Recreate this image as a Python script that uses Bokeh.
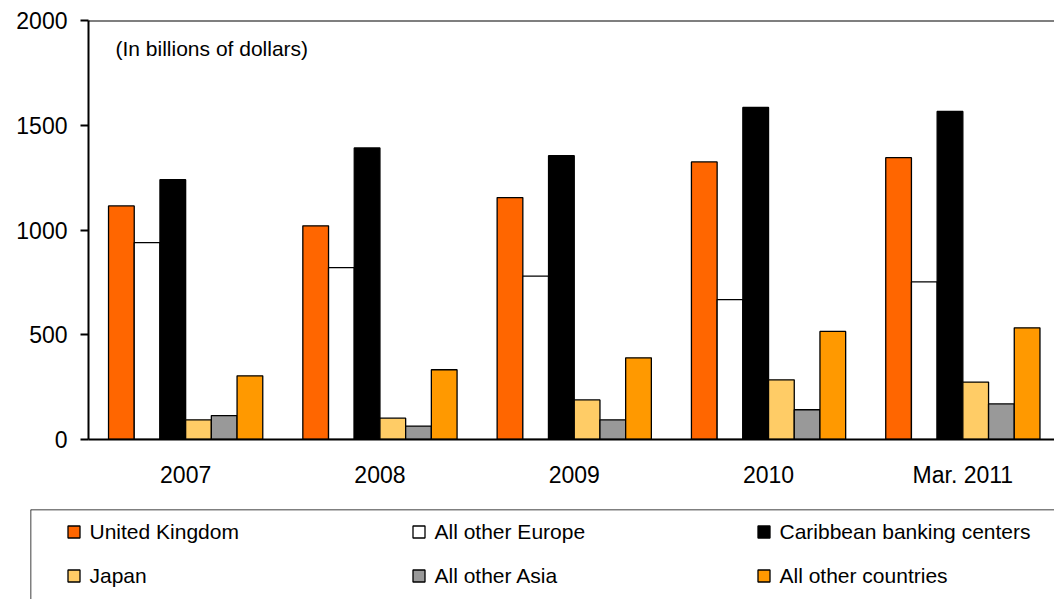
import numpy as np
from bokeh.plotting import figure
from bokeh.layouts import column
from bokeh.models import (ColumnDataSource, Range1d, FixedTicker, Span, Label,
                          Legend, LegendItem)
from bokeh.embed import file_html
from bokeh.resources import INLINE

# Holdings by country, in billions of dollars
periods = ["2007", "2008", "2009", "2010", "Mar. 2011"]
series_names = ["United Kingdom", "All other Europe", "Caribbean banking centers",
                "Japan", "All other Asia", "All other countries"]
united_kingdom = [1115, 1020, 1155, 1325, 1345]
other_europe = [940, 820, 780, 668, 752]
caribbean = [1240, 1392, 1355, 1585, 1566]
japan = [94, 102, 189, 285, 274]
other_asia = [114, 64, 94, 142, 170]
other_countries = [304, 333, 390, 516, 533]
y_ticks = [0, 500, 1000, 1500, 2000]

series_values = [united_kingdom, other_europe, caribbean, japan, other_asia, other_countries]
series_colors = ["#FF6600", "#FFFFFF", "#000000", "#FFCC66", "#999999", "#FF9900"]

FONT = "Liberation Sans"
W = 1054
TOP_H = 505
BOT_H = 599 - TOP_H

# ---- main bar chart ----
p = figure(width=W, height=TOP_H, output_backend="svg", toolbar_location=None,
           x_range=Range1d(-0.5, -0.5 + (W - 88) / 194.3), y_range=Range1d(0, 2000),
           min_border_left=88, min_border_right=0, min_border_top=20,
           min_border_bottom=TOP_H - 439)
p.frame_align = False
p.outline_line_color = None
p.background_fill_color = "white"
p.border_fill_color = "white"
p.xgrid.visible = False
p.ygrid.visible = False

bar_w = 0.1323
idx = np.arange(len(periods))
for k, (name, vals, col) in enumerate(zip(series_names, series_values, series_colors)):
    src = ColumnDataSource(dict(x=idx + (k - 2.5) * bar_w, top=vals))
    p.vbar(x="x", top="top", bottom=0, width=bar_w, source=src,
           fill_color=col, line_color="black", line_width=1.3)

# top edge of the plot area
p.add_layout(Span(location=2000, dimension="width", line_color="black", line_width=2))

p.add_layout(Label(x=-0.361, y=1866, text="(In billions of dollars)",
                   text_font=FONT, text_font_size="21px", text_color="black",
                   text_align="left", text_baseline="middle"))

# y axis
ya = p.yaxis[0]
ya.ticker = FixedTicker(ticks=y_ticks)
ya.axis_line_color = "black"
ya.axis_line_width = 2
ya.major_tick_line_color = "black"
ya.major_tick_line_width = 2
ya.major_tick_out = 8
ya.major_tick_in = 0
ya.minor_tick_line_color = None
ya.major_label_text_font = FONT
ya.major_label_text_font_size = "23px"
ya.major_label_text_color = "black"
ya.major_label_standoff = 13

# x axis
xa = p.xaxis[0]
xa.ticker = FixedTicker(ticks=list(range(len(periods))))
xa.major_label_overrides = {i: lab for i, lab in enumerate(periods)}
xa.axis_line_color = "black"
xa.axis_line_width = 2
xa.major_tick_line_color = None
xa.major_tick_out = 0
xa.major_tick_in = 0
xa.minor_tick_line_color = None
xa.major_label_text_font = FONT
xa.major_label_text_font_size = "23px"
xa.major_label_text_color = "black"
xa.major_label_standoff = 22

# ---- legend box ----
q = figure(width=W, height=BOT_H, output_backend="svg", toolbar_location=None,
           x_range=Range1d(0, W - 30), y_range=Range1d(0, BOT_H - 4),
           x_axis_type=None, y_axis_type=None,
           min_border_left=30, min_border_right=0, min_border_top=4, min_border_bottom=0)
q.frame_align = False
q.outline_line_color = None
q.background_fill_color = "white"
q.border_fill_color = "white"
q.xgrid.visible = False
q.ygrid.visible = False
q.add_layout(Span(location=BOT_H - 4, dimension="width", line_color="black", line_width=1.5))
q.add_layout(Span(location=0, dimension="height", line_color="black", line_width=1.5))

items = []
for name, col in zip(series_names, series_colors):
    swatch = q.vbar(x=[np.nan], top=[np.nan], width=1, fill_color=col,
                    line_color="black", line_width=1.3)
    items.append(LegendItem(label=name, renderers=[swatch]))

legend = Legend(items=items, location=(35.5, 8.5), orientation="horizontal", ncols=3,
                padding=0, margin=0, spacing=14, glyph_width=15, glyph_height=15,
                label_width=307, label_height=30, label_standoff=9,
                label_text_font=FONT, label_text_font_size="21px", label_text_color="black",
                border_line_color=None, background_fill_alpha=0)
q.add_layout(legend)

layout = column(p, q, spacing=0)
open("out.html", "w").write(file_html(layout, INLINE))
